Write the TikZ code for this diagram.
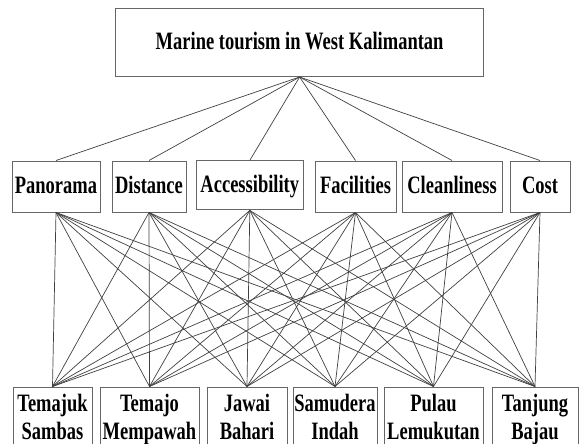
\documentclass[tikz,border=0pt]{standalone}
\usepackage{fontspec}
\usepackage{tikz}
\newfontfamily\boxfont{Liberation Serif}[FakeStretch=0.74]

\begin{document}
\begin{tikzpicture}[x=1pt,y=-1pt,line width=0.7pt,
  box node/.style={rectangle,draw=black!60,line width=1pt,fill=white,inner sep=0pt,
    align=center,font=\boxfont\bfseries\fontsize{25}{28}\selectfont},
  goal node/.style={box node,text height=17pt,text depth=3pt,
    minimum width=368pt,minimum height=68pt},
  crit node/.style={box node,text height=17pt,text depth=3pt,minimum height=51pt},
  alt node/.style={box node,minimum height=64.8pt}]
  \useasboundingbox (0,0) rectangle (579,444);
  \clip (0,0) rectangle (579,444);

  \node[goal node] (goal) at (299.6,42.5) {Marine tourism in West Kalimantan};

  \node[crit node,minimum width=88pt] (pan) at (56,186.5) {Panorama};
  \node[crit node,minimum width=74pt] (dist) at (149,186.5) {Distance};
  \node[crit node,minimum width=107pt,minimum height=49pt] (acc) at (249.8,185.4) {Accessibility};
  \node[crit node,minimum width=81pt] (fac) at (355.5,186.5) {Facilities};
  \node[crit node,minimum width=100pt] (clean) at (452,186.5) {Cleanliness};
  \node[crit node,minimum width=60pt] (cost) at (540,186.5) {Cost};

  \node[alt node,minimum width=79pt] (tem) at (52.5,419.4) {\strut Temajuk\\\strut Sambas};
  \node[alt node,minimum width=99pt] (mem) at (149.5,419.4) {\strut Temajo\\\strut Mempawah};
  \node[alt node,minimum width=80pt] (jaw) at (247,419.4) {\strut Jawai\\\strut Bahari};
  \node[alt node,minimum width=84pt] (sam) at (335,419.4) {\strut Samudera\\\strut Indah};
  \node[alt node,minimum width=99pt] (pul) at (433.5,419.4) {\strut Pulau\\\strut Lemukutan};
  \node[alt node,minimum width=86pt] (tan) at (535,419.4) {\strut Tanjung\\\strut Bajau};

  \path[draw=black!75]
    (goal.south) edge (pan.north)
                 edge (dist.north)
                 edge (acc.north)
                 edge (fac.north)
                 edge (clean.north)
                 edge (cost.north);

  \path[draw=black!75]
    (pan.south) edge (tem.north) edge (mem.north) edge (jaw.north)
                edge (sam.north) edge (pul.north) edge (tan.north)
    (dist.south) edge (tem.north) edge (mem.north) edge (jaw.north)
                 edge (sam.north) edge (pul.north) edge (tan.north)
    (acc.south) edge (tem.north) edge (mem.north) edge (jaw.north)
                edge (sam.north) edge (pul.north) edge (tan.north)
    (fac.south) edge (tem.north) edge (mem.north) edge (jaw.north)
                edge (sam.north) edge (pul.north) edge (tan.north)
    (clean.south) edge (tem.north) edge (mem.north) edge (jaw.north)
                  edge (sam.north) edge (pul.north) edge (tan.north)
    (cost.south) edge (tem.north) edge (mem.north) edge (jaw.north)
                 edge (sam.north) edge (pul.north) edge (tan.north);

\end{tikzpicture}
\end{document}
